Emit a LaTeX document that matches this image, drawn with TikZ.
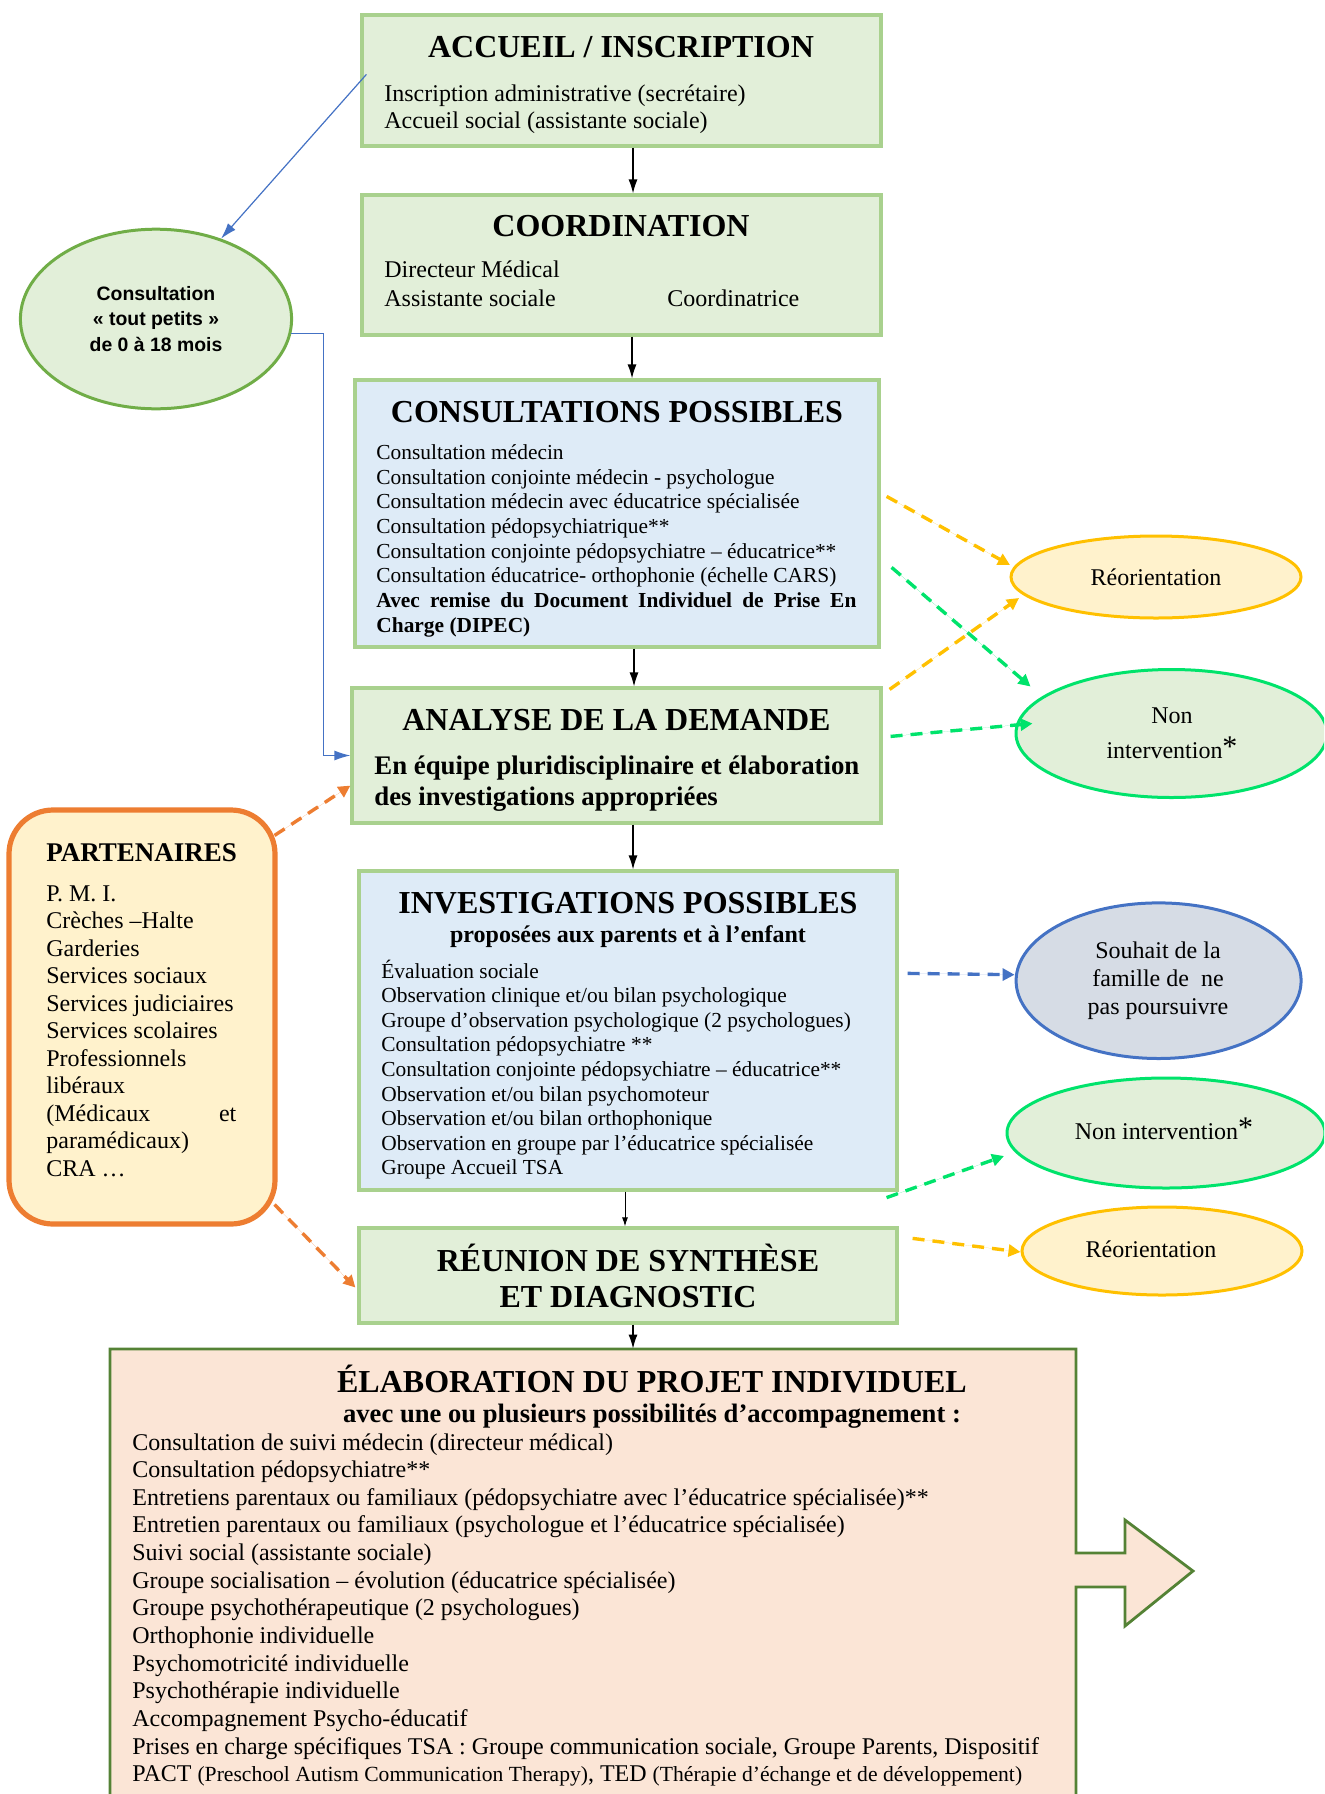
\documentclass[tikz,border=0pt]{standalone}
\usepackage{fontspec}
\setmainfont{Liberation Serif}
\newfontfamily\sansf{Liberation Sans}
\usetikzlibrary{arrows.meta,calc,fit,shapes.geometric}
\definecolor{gfill}{HTML}{E2EFD9}
\definecolor{gline}{HTML}{A9D18E}
\definecolor{bfill}{HTML}{DEEBF7}
\definecolor{efill}{HTML}{FBE5D6}
\definecolor{eline}{HTML}{548235}
\definecolor{yfill}{HTML}{FFF2CC}
\definecolor{yline}{HTML}{FFC000}
\definecolor{oline}{HTML}{ED7D31}
\definecolor{ngline}{HTML}{00E36B}
\definecolor{sfill}{HTML}{D6DCE5}
\definecolor{sline}{HTML}{4472C4}
\definecolor{tline}{HTML}{70AD47}
\tikzset{
  gbox/.style={draw=gline, fill=gfill, line width=1.6pt, inner sep=0pt},
  bbox/.style={draw=gline, fill=bfill, line width=1.6pt, inner sep=0pt},
  ttl/.style={font=\bfseries\fontsize{16}{18}\selectfont, anchor=base, inner sep=0pt},
  sub11/.style={font=\bfseries\fontsize{12}{14}\selectfont, anchor=base, inner sep=0pt},
  sub12/.style={font=\bfseries\fontsize{13.3}{15}\selectfont, anchor=base, inner sep=0pt},
  txa/.style={font=\fontsize{12}{13.8}\selectfont, anchor=base west, inner sep=0pt},
  txb/.style={font=\fontsize{10.7}{12.3}\selectfont, anchor=base west, inner sep=0pt},
  txc/.style={font=\fontsize{12}{13.8}\selectfont, anchor=center, inner sep=0pt, align=center},
  boldan/.style={font=\bfseries\fontsize{13.4}{15.5}\selectfont, anchor=base west, inner sep=0pt},
  ell/.style={ellipse, inner sep=0pt, line width=1.5pt},
  blk/.style={-{Latex[length=7pt,width=4.5pt]}, line width=0.6pt},
  bthin/.style={draw=sline, line width=0.6pt, -{Latex[length=8pt,width=5pt]}},
  dsh/.style={line width=1.7pt, dash pattern=on 6pt off 4pt, -{Triangle[length=6pt,width=6pt]}},
  odash/.style={dsh, draw=yline, fill=yline},
  gdash/.style={dsh, draw=ngline, fill=ngline},
  pdash/.style={dsh, draw=oline, fill=oline},
  sdash/.style={dsh, draw=sline, fill=sline},
}
\begin{document}
\begin{tikzpicture}[x=0.5pt,y=-0.5pt]
\useasboundingbox (0,0) rectangle (1324,1794);
\clip (0,0) rectangle (1324,1794);

% ---------- boxes ----------
\node[gbox, fit={(362,15) (881,146)}] (acc) {};
\node[gbox, fit={(362,195) (881,335)}] (coo) {};
\node[bbox, fit={(355,380) (879,647)}] (cons) {};
\node[gbox, fit={(352,688) (881,823)}] (ana) {};
\node[bbox, fit={(359,871) (897,1190)}] (inv) {};
\node[gbox, fit={(359,1228) (897,1323)}] (reu) {};
\node[inner sep=0pt, fit={(110,1349) (1076,1794)}] (elab) {};
\path[draw=eline, fill=efill, line width=1.4pt]
  (110,1349) -- (1076,1349) -- (1076,1553) -- (1125,1553) -- (1125,1520)
  -- (1193,1571) -- (1125,1626) -- (1125,1587) -- (1076,1587) -- (1076,1810)
  -- (110,1810) -- cycle;
\node[draw=oline, fill=yfill, line width=2.6pt, rounded corners=22pt, inner sep=0pt,
      fit={(9,810) (275,1224)}] (par) {};

% ---------- ellipses ----------
\node[ell, draw=tline, fill=gfill, minimum width=135.6pt, minimum height=89.8pt] (tp) at (156,319) {};
\node[ell, draw=yline, fill=yfill, minimum width=145pt, minimum height=41pt] (reo1) at (1156,577) {};
\node[ell, draw=ngline, fill=gfill, minimum width=155.5pt, minimum height=64pt] (ni1) at (1171.5,733.5) {};
\node[ell, draw=sline, fill=sfill, minimum width=142.5pt, minimum height=77.8pt] (sou) at (1158.6,980.7) {};
\node[ell, draw=ngline, fill=gfill, minimum width=159pt, minimum height=55pt] (ni2) at (1166,1133) {};
\node[ell, draw=yline, fill=yfill, minimum width=140pt, minimum height=44pt] (reo2) at (1162,1251) {};

% ---------- texts ----------
\node[ttl] (accT) at (621,57) {ACCUEIL / INSCRIPTION};
\node[txa] (accL1) at (384,101) {Inscription administrative (secrétaire)};
\node[txa] (accL2) at (384,128) {Accueil social (assistante sociale)};

\node[ttl] (cooT) at (621,236) {COORDINATION};
\node[txa] (cooL1) at (384,277) {Directeur Médical};
\node[txa] (cooL2) at (384,306) {Assistante sociale};
\node[txa] (cooL3) at (667,306) {Coordinatrice};

\node[ttl] (consT) at (617,422) {CONSULTATIONS POSSIBLES};
\foreach \t [count=\i from 0] in {Consultation médecin,
  Consultation conjointe médecin - psychologue,
  Consultation médecin avec éducatrice spécialisée,
  Consultation pédopsychiatrique**,
  Consultation conjointe pédopsychiatre – éducatrice**,
  Consultation éducatrice- orthophonie (échelle CARS)}
  \node[txb] (consL\i) at (376,459.4+24.7*\i) {\t};
\node[txb, font=\bfseries\fontsize{10.7}{12.3}\selectfont] (consL6) at (376,459.4+24.7*6)
  {\makebox[240pt][s]{Avec remise du Document Individuel de Prise En}};
\node[txb, font=\bfseries\fontsize{10.7}{12.3}\selectfont] (consL7) at (376,459.4+24.7*7) {Charge (DIPEC)};

\node[ttl] (anaT) at (616.5,730) {ANALYSE DE LA DEMANDE};
\node[boldan] (anaL1) at (374,774) {En équipe pluridisciplinaire et élaboration};
\node[boldan] (anaL2) at (374,805) {des investigations appropriées};

\node[ttl] (invT) at (628,913) {INVESTIGATIONS POSSIBLES};
\node[sub11] (invS) at (628,942) {proposées aux parents et à l’enfant};
\foreach \t [count=\i from 0] in {Évaluation sociale,
  Observation clinique et/ou bilan psychologique,
  Groupe d’observation psychologique (2 psychologues),
  Consultation pédopsychiatre **,
  Consultation conjointe pédopsychiatre – éducatrice**,
  Observation et/ou bilan psychomoteur,
  Observation et/ou bilan orthophonique,
  Observation en groupe par l’éducatrice spécialisée,
  Groupe Accueil TSA}
  \node[txb] (invL\i) at (381,978+24.6*\i) {\t};

\node[ttl] (reuT1) at (628,1271) {RÉUNION DE SYNTHÈSE};
\node[ttl] (reuT2) at (628,1307) {ET DIAGNOSTIC};

\node[ttl] (elabT) at (652,1392) {ÉLABORATION DU PROJET INDIVIDUEL};
\node[sub12] (elabS) at (652,1422) {avec une ou plusieurs possibilités d’accompagnement :};
\foreach \t [count=\i from 0] in {Consultation de suivi médecin (directeur médical),
  Consultation pédopsychiatre**,
  Entretiens parentaux ou familiaux (pédopsychiatre avec l’éducatrice spécialisée)**,
  Entretien parentaux ou familiaux (psychologue et l’éducatrice spécialisée),
  Suivi social (assistante sociale),
  Groupe socialisation – évolution (éducatrice spécialisée),
  Groupe psychothérapeutique (2 psychologues),
  Orthophonie individuelle,
  Psychomotricité individuelle,
  Psychothérapie individuelle,
  Accompagnement Psycho-éducatif,
  {Prises en charge spécifiques TSA : Groupe communication sociale, Groupe Parents, Dispositif},
  {PACT {\fontsize{10.8}{12}\selectfont(Preschool Autism Communication Therapy)}, TED {\fontsize{10.8}{12}\selectfont(Thérapie d’échange et de développement)}}}
  \node[txa] (elabL\i) at (132,1450+27.66*\i) {\t};

\node[txa, font=\bfseries\fontsize{13.5}{15}\selectfont] (parT) at (46,861) {PARTENAIRES};
\foreach \t [count=\i from 0] in {P. M. I.,
  Crèches –Halte,
  Garderies,
  Services sociaux,
  Services judiciaires,
  Services scolaires,
  Professionnels,
  libéraux,
  \makebox[95pt][s]{(Médicaux et},
  paramédicaux),
  CRA …}
  \node[txa] (parL\i) at (46,901+27.5*\i) {\t};

\node[txc, font=\sansf\bfseries\fontsize{9.7}{12.9}\selectfont] (tpT) at (156,319)
  {Consultation\\« tout petits »\\de 0 à 18 mois};
\node[txc] (reo1T) at (1156,577) {Réorientation};
\node[txc, font=\fontsize{12}{17.5}\selectfont] (ni1T) at (1172,733)
  {Non\\intervention\raisebox{1pt}{\fontsize{15}{15}\selectfont *}};
\node[txc, font=\fontsize{12}{14}\selectfont] (souT) at (1158,981)
  {Souhait de la\\famille de\ \ ne\\pas poursuivre};
\node[txc] (ni2T) at (1164,1129) {Non intervention\raisebox{1pt}{\fontsize{15}{15}\selectfont *}};
\node[txc] (reo2T) at (1151,1249) {Réorientation};

% ---------- connectors ----------
\coordinate (xa) at (633,0);
\coordinate (xb) at (632,0);
\coordinate (xc) at (634,0);
\coordinate (xd) at (633,0);
\coordinate (xe) at (625,0);
\coordinate (xf) at (633,0);
\draw[blk] (acc.south -| xa) -- (coo.north -| xa);
\draw[blk] (coo.south -| xb) -- (cons.north -| xb);
\draw[blk] (cons.south -| xc) -- (ana.north -| xc);
\draw[blk] (ana.south -| xd) -- (inv.north -| xd);
\draw[-{Latex[length=4.5pt,width=3pt]}, line width=0.5pt] (inv.south -| xe) -- (reu.north -| xe);
\draw[blk] (reu.south -| xf) -- (elab.north -| xf);

\draw[bthin] ($(acc.north west)+(6,61)$) -- (tp.51);
\draw[bthin] (tp.-6.7) -| ($(ana.west)+(-27,0)$) -- (ana.west);

\draw[odash] ($(cons.north east)+(6,118)$) -- ($(reo1.center)+(-146,-12)$);
\draw[gdash] ($(cons.north east)+(11,189)$) -- ($(ni1.center)+(-141,-47)$);
\draw[odash] ($(ana.north east)+(7,3)$) -- ($(reo1.center)+(-137,21)$);
\draw[gdash] ($(ana.north east)+(8,50)$) -- ($(ni1.center)+(-139,-10)$);
\draw[pdash] ($(par.north east)+(-3,28)$) -- ($(ana.south west)+(0,-39)$);
\draw[pdash] ($(par.south east)+(-3,-22)$) -- ($(reu.west)+(-2,12)$);
\draw[sdash] ($(inv.north east)+(9,104)$) -- ($(sou.west)+(0,-6)$);
\draw[gdash] ($(inv.south east)+(-12,6)$) -- ($(ni2.center)+(-162,23)$);
\draw[odash] ($(reu.north east)+(14,12)$) -- ($(reo2.west)+(0,1)$);
\end{tikzpicture}
\end{document}
